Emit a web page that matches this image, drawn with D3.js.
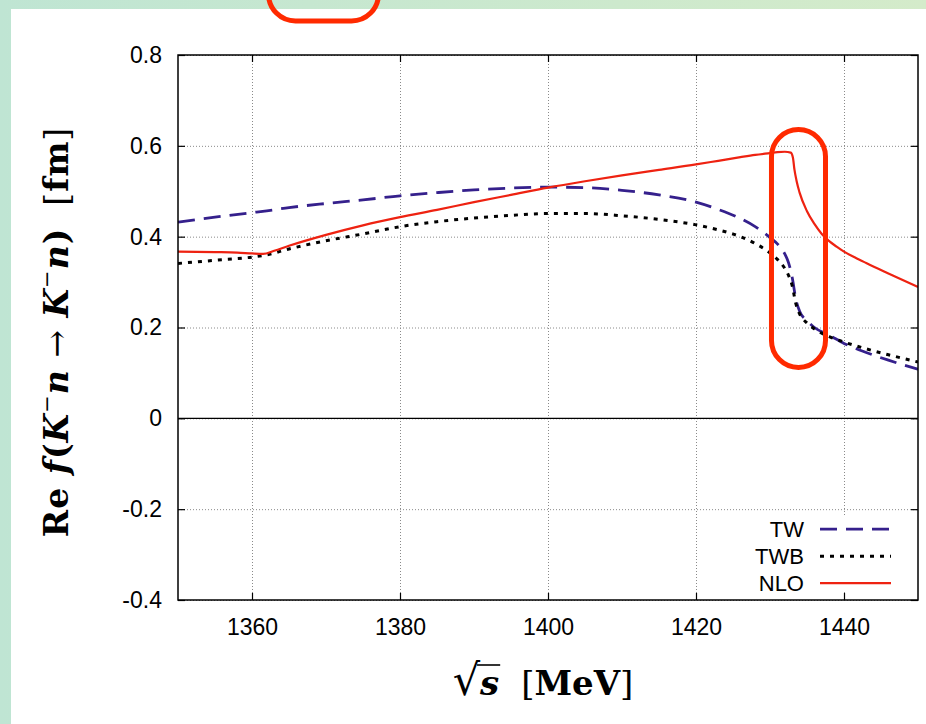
<!DOCTYPE html>
<html>
<head>
<meta charset="utf-8">
<script src="https://cdn.jsdelivr.net/npm/d3@7"></script>
<style>
body { margin: 0; background: #c4e6cf; }
svg { display: block; }
.tick text { font-family: 'Liberation Sans', Arial, sans-serif; font-size: 23px; fill: #000; }
.grid line { stroke: #8a8a8a; stroke-width: 1; stroke-dasharray: 1,2; }
.grid path { display: none; }
</style>
</head>
<body>
<div id="chart"></div>
<script>
// sqrt(s) in MeV, shared by TW and TWB
const energy = [1350, 1355, 1360, 1362, 1365, 1370, 1375, 1380, 1385, 1390, 1395, 1400, 1405, 1410, 1415,
	1420, 1423, 1426, 1428, 1430, 1431, 1432, 1432.5, 1433, 1433.5, 1434, 1435, 1436, 1438, 1440, 1443, 1446, 1450];
const tw = [0.432, 0.443, 0.453, 0.457, 0.464, 0.473, 0.481, 0.490, 0.497, 0.503, 0.507, 0.509, 0.508, 0.502, 0.492,
	0.476, 0.460, 0.440, 0.422, 0.398, 0.384, 0.362, 0.343, 0.310, 0.262, 0.236, 0.215, 0.200, 0.183, 0.165, 0.145, 0.128, 0.108];
const twb = [0.341, 0.348, 0.355, 0.360, 0.373, 0.391, 0.406, 0.422, 0.433, 0.441, 0.447, 0.451, 0.451, 0.446, 0.438,
	0.426, 0.415, 0.400, 0.385, 0.364, 0.350, 0.330, 0.315, 0.292, 0.252, 0.230, 0.210, 0.197, 0.180, 0.168, 0.153, 0.140, 0.124];
// NLO has its own energy grid (sharper cusp)
const energyNLO = [1350, 1355, 1358, 1360, 1361.5, 1363, 1365, 1370, 1375, 1380, 1385, 1390, 1395, 1400, 1405, 1410, 1415,
	1420, 1423, 1426, 1428, 1430, 1431, 1432, 1432.8, 1433.1, 1433.3, 1433.6, 1434, 1435, 1436, 1437, 1438, 1439, 1440, 1441.5, 1443, 1446, 1450];
const nlo = [0.367, 0.366, 0.365, 0.363, 0.362, 0.369, 0.380, 0.404, 0.425, 0.443, 0.459, 0.476, 0.492, 0.508, 0.522, 0.535, 0.547,
	0.559, 0.567, 0.575, 0.580, 0.584, 0.586, 0.587, 0.585, 0.574, 0.548, 0.522, 0.497, 0.456, 0.428, 0.406, 0.390, 0.378, 0.367, 0.354, 0.342, 0.319, 0.289];

const seriesNames = ['TW', 'TWB', 'NLO'];
const xTicks = [1360, 1380, 1400, 1420, 1440];
const yTicks = [-0.4, -0.2, 0, 0.2, 0.4, 0.6, 0.8];
// highlighted region (sqrt s range, value range)
const highlightX = [1430.2, 1437.5];
const highlightY = [0.112, 0.636];

const W = 926, H = 724;
const margin = {top: 55, right: 8, bottom: 124, left: 178};
const width = W - margin.left - margin.right;
const height = H - margin.top - margin.bottom;

const svg = d3.select('#chart').append('svg')
	.attr('width', W)
	.attr('height', H);

const defs = svg.append('defs');
const grad = defs.append('linearGradient').attr('id', 'bg');
grad.append('stop').attr('offset', '0%').attr('stop-color', '#bfe5d3');
grad.append('stop').attr('offset', '100%').attr('stop-color', '#d4ebca');
svg.append('rect').attr('width', W).attr('height', H).attr('fill', 'url(#bg)');
svg.append('rect').attr('x', 11).attr('y', 9).attr('width', W - 11).attr('height', H - 9).attr('fill', '#fff');

// red marker at the very top
svg.append('rect')
	.attr('x', 268.5).attr('y', -60)
	.attr('width', 110).attr('height', 81)
	.attr('rx', 27)
	.attr('fill', 'none')
	.attr('stroke', '#ff2a00')
	.attr('stroke-width', 5);

const x = d3.scaleLinear().domain([1350, 1450]).range([0, width]);
const y = d3.scaleLinear().domain([-0.4, 0.8]).range([height, 0]);

const g = svg.append('g').attr('transform', `translate(${margin.left}, ${margin.top})`);

defs.append('clipPath').attr('id', 'plot-clip')
	.append('rect').attr('width', width).attr('height', height);

// grid
g.append('g').attr('class', 'grid')
	.call(d3.axisBottom(x).tickValues(xTicks).tickSize(height).tickFormat(''));
g.append('g').attr('class', 'grid')
	.call(d3.axisLeft(y).tickValues(yTicks).tickSize(-width).tickFormat(''));

// zero line
g.append('line')
	.attr('x1', 0).attr('x2', width)
	.attr('y1', y(0)).attr('y2', y(0))
	.attr('stroke', '#000').attr('stroke-width', 1.2);

// legend box blanks the grid
g.append('rect')
	.attr('x', 560).attr('y', y(-0.2) + 6)
	.attr('width', width - 561).attr('height', height - y(-0.2) - 14)
	.attr('fill', '#fff');

const series = [
	{name: 'TW', xs: energy, ys: tw, color: '#35208c', dash: '17,9', w: 2.8},
	{name: 'TWB', xs: energy, ys: twb, color: '#000', dash: '4,6', w: 3},
	{name: 'NLO', xs: energyNLO, ys: nlo, color: '#ee2211', dash: null, w: 2.2}
];

const line = d3.line()
	.x(d => x(d[0]))
	.y(d => y(d[1]))
	.curve(d3.curveMonotoneX);

const curves = g.append('g').attr('clip-path', 'url(#plot-clip)');
series.forEach(s => {
	curves.append('path')
		.datum(s.xs.map((e, i) => [e, s.ys[i]]))
		.attr('fill', 'none')
		.attr('stroke', s.color)
		.attr('stroke-width', s.w)
		.attr('stroke-dasharray', s.dash)
		.attr('d', line);
});

// legend
const legend = g.append('g').attr('transform', `translate(${width - 114}, ${y(-0.2) + 20})`);
seriesNames.forEach((name, i) => {
	const s = series[i];
	const row = legend.append('g').attr('transform', `translate(0, ${i * 27})`);
	row.append('text')
		.attr('x', 0).attr('y', 8)
		.attr('text-anchor', 'end')
		.style('font-family', "'Liberation Sans', Arial, sans-serif")
		.style('font-size', '22px')
		.text(name);
	row.append('line')
		.attr('x1', 16).attr('x2', 87)
		.attr('stroke', s.color)
		.attr('stroke-width', s.w)
		.attr('stroke-dasharray', s.dash);
});

// axes with inward ticks on all sides
const yfmt = d => d === 0 ? '0' : d.toFixed(1);
const tick = 7;
g.append('g')
	.attr('transform', `translate(0, ${height})`)
	.call(d3.axisBottom(x).tickValues(xTicks).tickSizeInner(-tick).tickSizeOuter(0).tickPadding(19).tickFormat(d3.format('d')));
g.append('g')
	.call(d3.axisTop(x).tickValues(xTicks).tickSizeInner(-tick).tickSizeOuter(0).tickFormat(''));
g.append('g')
	.call(d3.axisLeft(y).tickValues(yTicks).tickSizeInner(-tick).tickSizeOuter(0).tickPadding(16).tickFormat(yfmt));
g.append('g')
	.attr('transform', `translate(${width}, 0)`)
	.call(d3.axisRight(y).tickValues(yTicks).tickSizeInner(-tick).tickSizeOuter(0).tickFormat(''));
g.selectAll('.domain').remove();
g.selectAll('.tick line').filter(function () { return !this.closest('.grid'); })
	.attr('stroke', '#000').attr('stroke-width', 1.2);

g.append('rect')
	.attr('width', width).attr('height', height)
	.attr('fill', 'none').attr('stroke', '#000').attr('stroke-width', 1.5);

// highlight pill
const hx0 = x(highlightX[0]), hx1 = x(highlightX[1]);
const hy0 = y(highlightY[1]), hy1 = y(highlightY[0]);
g.append('rect')
	.attr('x', hx0).attr('y', hy0)
	.attr('width', hx1 - hx0).attr('height', hy1 - hy0)
	.attr('rx', (hx1 - hx0) / 2)
	.attr('fill', 'none')
	.attr('stroke', '#ff2a00')
	.attr('stroke-width', 5);

// y label
const serif = "'DejaVu Serif', 'Liberation Serif', serif";
const ylab = svg.append('text')
	.attr('transform', 'translate(68, 332) rotate(-90)')
	.attr('text-anchor', 'middle')
	.style('font-family', serif)
	.style('font-size', '33px')
	.style('letter-spacing', '1px')
	.style('font-weight', 'bold');
ylab.append('tspan').text('Re ');
ylab.append('tspan').style('font-style', 'italic').text('f');
ylab.append('tspan').text('(');
ylab.append('tspan').style('font-style', 'italic').text('K');
ylab.append('tspan').attr('dy', -14).style('font-size', '21px').style('font-weight', 'normal').text('\u2212');
ylab.append('tspan').attr('dy', 14).style('font-style', 'italic').text('n');
ylab.append('tspan').style('font-weight', 'normal').text(' \u2192 ');
ylab.append('tspan').style('font-style', 'italic').text('K');
ylab.append('tspan').attr('dy', -14).style('font-size', '21px').style('font-weight', 'normal').text('\u2212');
ylab.append('tspan').attr('dy', 14).style('font-style', 'italic').text('n');
ylab.append('tspan').text(')');
ylab.append('tspan').attr('dx', 22).style('font-weight', 'normal').text('[');
ylab.append('tspan').text('fm');
ylab.append('tspan').style('font-weight', 'normal').text(']');

// x label
const xlab = svg.append('text')
	.attr('x', 543).attr('y', 695)
	.attr('text-anchor', 'middle')
	.style('font-family', serif)
	.style('font-size', '34px')
	.style('font-weight', 'bold');
xlab.append('tspan').style('font-weight', 'normal').style('font-size', '43px').text('\u221A');
xlab.append('tspan').style('font-style', 'italic').text('s');
xlab.append('tspan').attr('dx', 22).style('font-weight', 'normal').text('[');
xlab.append('tspan').text('MeV');
xlab.append('tspan').style('font-weight', 'normal').text(']');
// vinculum over s
const rBox = xlab.node().getExtentOfChar(0);
const sBox = xlab.node().getExtentOfChar(1);
svg.append('line')
	.attr('x1', rBox.x + rBox.width - 3).attr('x2', sBox.x + sBox.width + 1)
	.attr('y1', rBox.y + 10).attr('y2', rBox.y + 10)
	.attr('stroke', '#000').attr('stroke-width', 1.6);
</script>
</body>
</html>
